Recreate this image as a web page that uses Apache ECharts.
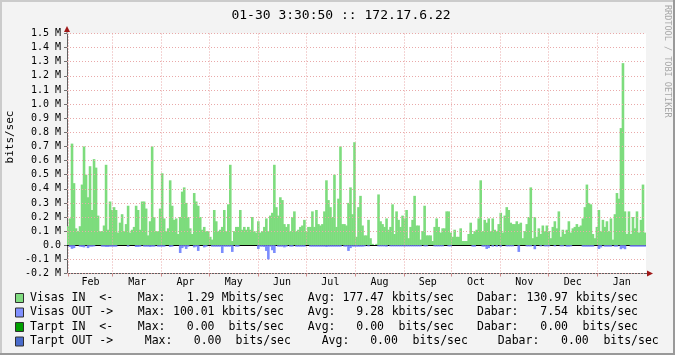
<!DOCTYPE html>
<html><head><meta charset="utf-8">
<script src="https://cdn.jsdelivr.net/npm/echarts@6/dist/echarts.min.js"></script>
<style>html,body{margin:0;padding:0;background:#f3f3f3}#c{width:675px;height:355px}</style>
</head><body><div id="c"></div>
<script>
// Visas IN (kbits/sec), one value per ~2px column, Feb -> Jan
const visasIn = [
135,190,720,440,120,100,135,430,700,500,
340,560,250,610,550,210,100,100,140,570,
110,310,250,270,250,90,160,220,100,150,
280,90,110,130,280,250,110,310,310,260,
70,170,
700,200,100,100,260,510,190,100,120,460,
280,180,190,80,200,380,410,300,200,120,
80,370,310,280,200,110,130,100,100,60,
40,250,170,100,110,130,250,100,290,570,
30,100,130,130,250,110,130,110,130,110,
200,100,90,170,90,100,130,190,100,210,
230,570,270,210,340,320,150,130,150,100,
200,240,100,110,130,140,180,100,130,130,
240,130,250,150,140,150,240,460,320,270,
200,500,130,330,700,150,
150,140,300,410,220,730,60,270,350,140,
70,70,180,50,10,0,10,360,170,150,
130,190,110,130,290,80,240,180,130,210,
190,250,50,130,180,350,140,140,40,100,
280,70,70,70,30,130,190,130,90,120,
120,240,240,90,60,110,60,60,120,30,
30,30,80,160,80,100,110,190,460,100,
180,160,190,100,190,110,100,150,230,90,
210,270,250,160,150,150,170,150,160,50,
100,150,200,410,50,200,60,120,80,140,
100,140,100,50,130,170,120,240,60,110,
80,110,170,90,120,130,150,130,140,190,
270,430,300,290,80,50,130,250,100,180,
130,170,100,190,40,220,370,330,830,1290,
240,80,240,80,200,120,240,90,180,430,
90
];
// Visas OUT (kbits/sec, drawn below zero)
const visasOut = [
0,-12,-25,-20,0,0,-10,-12,-15,0,
-20,-10,-10,-8,0,0,0,-10,-10,-12,
-12,-10,-10,-10,-10,0,0,0,0,0,
-10,0,0,0,-12,-12,-10,0,-10,-10,
-10,-12,-10,-10,0,-10,-10,-10,-10,0,
0,-12,-10,0,0,0,-55,-20,-10,-26,
-10,0,0,-15,-10,-40,0,0,-15,-10,
0,0,-10,-10,-10,-10,-10,-55,-10,-10,
-10,-10,-47,0,-10,-10,0,0,0,0,
0,0,0,0,0,-26,-10,-10,-12,-40,
-100,-10,-35,-55,0,-10,-10,-10,-15,-10,
0,-10,-10,0,-10,-10,-10,-10,-10,0,
0,-10,-10,-10,-10,-10,-10,-10,-10,-12,
-10,-10,-10,-10,-10,-10,-10,0,-10,-10,
-40,-20,-10,-10,-10,-10,-10,-10,-8,0,
-8,0,0,0,0,-8,-8,-8,-8,-10,
0,-8,-8,-8,-8,-8,-8,-8,-8,-8,
-8,-8,-8,-8,-8,-8,-8,0,-8,-8,
0,0,0,-8,-8,-8,-8,-8,0,0,
-8,-8,0,0,0,0,0,0,0,0,
0,0,-10,-10,0,0,0,-10,-10,-26,
-20,0,-10,0,-10,0,-10,0,0,-8,
-8,-8,-8,0,0,-47,0,0,0,-8,
-8,-8,0,-28,0,0,-8,0,-8,-8,
-8,0,0,-8,0,0,-8,-8,0,-10,
-10,-8,0,0,0,0,0,-10,-10,-10,
-10,-10,-10,0,0,-26,-15,0,-10,-10,
-10,-10,0,-10,-10,0,-28,-20,-28,0,
0,-10,-10,-10,-10,-10,-10,-10,-10
];
const monthNames = ['Feb','Mar','Apr','May','Jun','Jul','Aug','Sep','Oct','Nov','Dec','Jan'];
const monthStarts = [0,28,59,89,120,150,181,212,242,273,303,334]; // days from Feb 1
const yearDays = 365;
const title = '01-30 3:30:50 :: 172.17.6.22';
const legendNames = ['Visas IN  <-','Visas OUT ->','Tarpt IN  <-','Tarpt OUT ->'];
const legendMax = ['1.29','100.01','0.00','0.00'];
const legendAvg = ['177.47','9.28','0.00','0.00'];
const legendCur = ['130.97','7.54','0.00','0.00'];
const legendUnitMax = ['Mbits/sec','kbits/sec','bits/sec','bits/sec'];
const legendUnitAvg = ['kbits/sec','kbits/sec','bits/sec','bits/sec'];
const legendUnitCur = ['kbits/sec','kbits/sec','bits/sec','bits/sec'];
const legendColors = ['#80dc80','#8090ff','#00a000','#4a6ccc'];

const labelPos = monthStarts.map((d, i) => (d + (i + 1 < monthStarts.length ? monthStarts[i + 1] : yearDays)) / 2);
const bins = visasIn.map((_, i) => i);
const MONO = '"DejaVu Sans Mono", monospace';
const IN_COLOR = '#7ddc7d';
const OUT_COLOR = '#7b8cfd';

const chart = echarts.init(document.getElementById('c'), null, {renderer: 'canvas'});

const gfx = [];
// frame
gfx.push({type:'rect', shape:{x:0,y:0,width:675,height:2}, style:{fill:'#cbcbcb'}, silent:true});
gfx.push({type:'rect', shape:{x:0,y:0,width:2,height:355}, style:{fill:'#cbcbcb'}, silent:true});
gfx.push({type:'rect', shape:{x:673,y:0,width:2,height:355}, style:{fill:'#999999'}, silent:true});
gfx.push({type:'rect', shape:{x:0,y:353,width:675,height:2}, style:{fill:'#999999'}, silent:true});
// title
gfx.push({type:'text', x:341, y:15.5, style:{text:title, font:'13px ' + MONO, fill:'#000', align:'center', verticalAlign:'middle'}});
// watermark
gfx.push({type:'text', x:667, y:5, rotation:-Math.PI/2, style:{text:'RRDTOOL / TOBI OETIKER', font:'8.5px ' + MONO, fill:'#a8a8a8', align:'left', verticalAlign:'middle'}});
// y-axis name
gfx.push({type:'text', x:10, y:137, rotation:Math.PI/2, style:{text:'bits/sec', font:'11px ' + MONO, fill:'#000', align:'center', verticalAlign:'middle'}});
// axis arrows
gfx.push({type:'rect', shape:{x:66.5,y:29,width:1,height:5}, style:{fill:'#606060'}, silent:true});
gfx.push({type:'polygon', shape:{points:[[67,26],[64,32],[70,32]]}, style:{fill:'#a01818'}, silent:true});
gfx.push({type:'rect', shape:{x:645,y:273,width:6,height:1}, style:{fill:'#606060'}, silent:true});
gfx.push({type:'polygon', shape:{points:[[653,273.5],[647,270.5],[647,276.5]]}, style:{fill:'#a01818'}, silent:true});
// legend
const rowsY = [298, 312.5, 327, 341.5];
const cw = 6.93;
legendNames.forEach((name, r) => {
  const y = rowsY[r];
  const sh = r === 3 ? cw : 0;
  gfx.push({type:'rect', shape:{x:15.5,y:y-4.5,width:8,height:9}, style:{fill:legendColors[r], stroke:'#303030', lineWidth:1}});
  const t = (x, text, align) => gfx.push({type:'text', x:x, y:y, style:{text:text, font:'11.5px ' + MONO, fill:'#000', align:align || 'left', verticalAlign:'middle'}});
  t(30, name);
  t(137.8 + sh, 'Max:');
  t(214.5 + sh, legendMax[r], 'right');
  t(284 + sh, legendUnitMax[r], 'right');
  t(307.8 + 2*sh, 'Avg:');
  t(384 + 2*sh, legendAvg[r], 'right');
  t(454 + 2*sh, legendUnitAvg[r], 'right');
  t(477 + 3*sh, 'Dabar:');
  t(568 + 3*sh, legendCur[r], 'right');
  t(638 + 3*sh, legendUnitCur[r], 'right');
});

const gridLine = {show:true, lineStyle:{color:'#e9a9a9', type:[1,2], width:1}};
const gridPos = {left:67, right:29, top:33.5, bottom:81.5};
const xMin = -0.8, xMax = 364.8;

chart.setOption({
  animation: false,
  backgroundColor: '#f3f3f3',
  grid: [
    Object.assign({show:true, backgroundColor:'#ffffff', borderWidth:0}, gridPos),
    Object.assign({show:false}, gridPos)
  ],
  xAxis: [
    {
      type:'value', min:xMin, max:xMax, position:'bottom', gridIndex:0,
      axisLine:{show:true, onZero:false, lineStyle:{color:'#606060', width:1}},
      axisTick:{show:true, customValues: monthStarts, length:3, lineStyle:{color:'#d08a8a'}},
      axisLabel:{customValues: labelPos, margin:4, color:'#000', fontFamily:'DejaVu Sans Mono', fontSize:10,
        formatter: v => { let best = 0; labelPos.forEach((p, i) => { if (Math.abs(p - v) < Math.abs(labelPos[best] - v)) best = i; }); return monthNames[best]; }},
      splitLine: {show:false}
    },
    {type:'category', data:bins, show:false, position:'bottom', boundaryGap:true, gridIndex:0},
    // overlay axis: grid lines drawn above the bars, as rrdtool does
    {
      type:'value', min:xMin, max:xMax, gridIndex:1, z:5,
      axisLine:{show:false}, axisLabel:{show:false},
      axisTick:{show:false, customValues: monthStarts},
      splitLine: gridLine
    }
  ],
  yAxis: [
    {
      type:'value', min:-200, max:1500, interval:100, gridIndex:0,
      axisLine:{show:true, onZero:false, lineStyle:{color:'#606060', width:1}},
      axisTick:{show:true, length:3, lineStyle:{color:'#707070'}},
      axisLabel:{margin:6, color:'#000', fontFamily:'DejaVu Sans Mono', fontSize:10,
        formatter: v => v === 0 ? '0.0' : (v / 1000).toFixed(1) + ' M'},
      splitLine: {show:false}
    },
    {
      type:'value', min:-200, max:1500, interval:100, gridIndex:1, z:5,
      axisLine:{show:false}, axisTick:{show:false}, axisLabel:{show:false},
      splitLine: gridLine
    }
  ],
  series: [
    {type:'bar', name:'Visas IN', xAxisIndex:1, yAxisIndex:0, data:visasIn, barWidth:2.6, barGap:'-100%',
      itemStyle:{color:IN_COLOR}, silent:true},
    {type:'bar', name:'Visas OUT', xAxisIndex:1, yAxisIndex:0, data:visasOut, barWidth:2.6, barGap:'-100%',
      itemStyle:{color:OUT_COLOR}, silent:true, z:6,
      markLine:{silent:true, symbol:'none', label:{show:false}, lineStyle:{color:'#000', type:'solid', width:1}, data:[{yAxis:0}]}}
  ],
  graphic: gfx
});
</script></body></html>
